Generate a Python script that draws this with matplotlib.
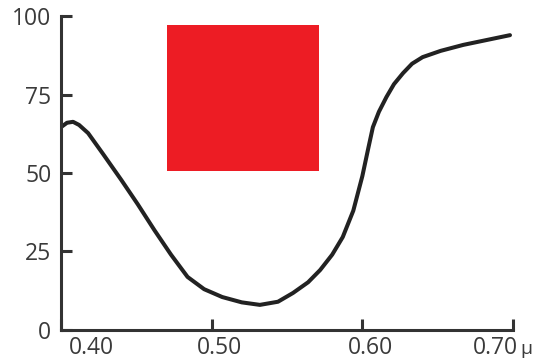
import matplotlib
matplotlib.use("Agg")
import matplotlib.pyplot as plt
import matplotlib.transforms as mtransforms
from matplotlib.patches import Rectangle

# transmission curve
wavelength = [0.400, 0.404, 0.408, 0.412, 0.418, 0.428, 0.440, 0.451, 0.462,
              0.473, 0.484, 0.495, 0.507, 0.520, 0.532, 0.544, 0.554, 0.564,
              0.572, 0.580, 0.587, 0.594, 0.600, 0.604, 0.607, 0.611, 0.616,
              0.621, 0.627, 0.633, 0.640, 0.652, 0.667, 0.683, 0.698]
transmission = [64.6, 66.0, 66.3, 65.3, 62.7, 56.0, 47.8, 40.0, 31.8,
                24.0, 16.9, 13.0, 10.5, 8.8, 8.0, 9.0, 11.8, 15.2,
                19.1, 24.0, 29.6, 38.0, 49.0, 58.0, 64.6, 69.5, 74.2,
                78.3, 81.8, 84.8, 86.9, 88.9, 90.8, 92.4, 93.9]

# red filter swatch (data coords)
swatch_x = [0.4703, 0.5712]
swatch_y = [50.6, 97.1]

x_ticks = [0.40, 0.50, 0.60, 0.70]
x_labels = ["0.40", "0.50", "0.60", "0.70"]
y_ticks = [0, 25, 50, 75, 100]
y_labels = ["0", "25", "50", "75", "100"]

plt.rcParams['font.family'] = ['Open Sans', 'DejaVu Sans']
text_color = "#3a3a3a"
axis_color = "#333333"

fig = plt.figure(figsize=(5.36, 3.62), dpi=100)
ax = fig.add_axes([0.1138, 0.0884, 0.8433, 0.8674])

ax.add_patch(Rectangle((swatch_x[0], swatch_y[0]),
                       swatch_x[1] - swatch_x[0], swatch_y[1] - swatch_y[0],
                       facecolor="#ED1C24", edgecolor="none"))
ax.plot(wavelength, transmission, color="#222222", lw=2.9,
        solid_capstyle="round", solid_joinstyle="round")

ax.set_xlim(0.40, 0.70)
ax.set_ylim(0, 100)
for side in ["top", "right"]:
    ax.spines[side].set_visible(False)
for side in ["left", "bottom"]:
    ax.spines[side].set_linewidth(2.2)
    ax.spines[side].set_color(axis_color)
    ax.spines[side].set_capstyle("projecting")

ax.set_xticks(x_ticks)
ax.set_xticklabels(x_labels)
ax.set_yticks(y_ticks)
ax.set_yticklabels(y_labels)
ax.tick_params(direction="in", length=8, width=2.2, color=axis_color,
               labelsize=16.5, labelcolor=text_color)
ax.tick_params(axis="x", pad=4)
ax.tick_params(axis="y", pad=7)

# shift x labels like the original (pixels)
shifts = [30, 8, 8, -18]
for lab, dx in zip(ax.get_xticklabels(), shifts):
    lab.set_transform(lab.get_transform() +
                      mtransforms.ScaledTranslation(dx / 100, 0, fig.dpi_scale_trans))

fig.text(0.982, 0.035, "μ", fontsize=14, color=text_color, ha="center", va="center")

fig.savefig("out.png", dpi=100)
